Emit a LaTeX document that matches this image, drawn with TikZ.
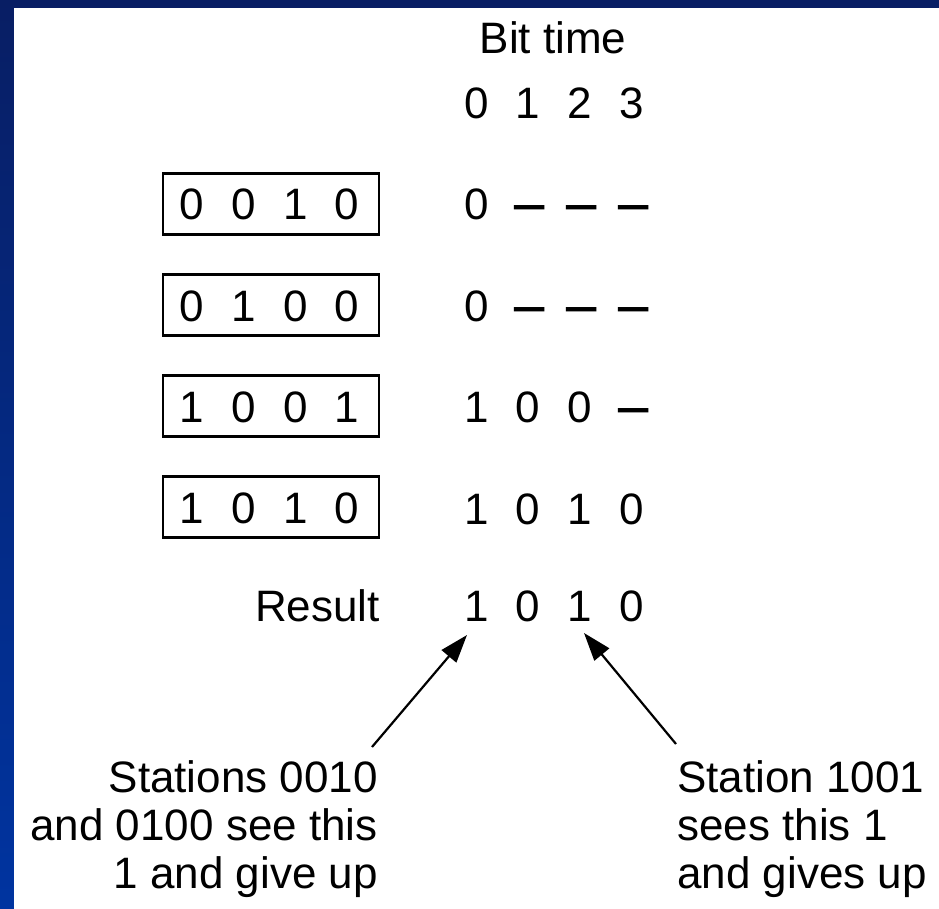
\documentclass[tikz,border=0pt]{standalone}
\usepackage{fontspec}
\usepackage{graphicx}
\setmainfont{Liberation Sans}
\usetikzlibrary{arrows.meta}
\definecolor{navytop}{RGB}{8,30,100}
\definecolor{navybot}{RGB}{0,52,160}
\newcommand{\nobitdash}{\scalebox{1.4}[1]{\textbf{\textendash}}}
\begin{document}
\begin{tikzpicture}[x=1pt,y=-1pt,
  every node/.style={inner sep=0pt, font=\fontsize{44}{48}\selectfont},
  digit/.style={anchor=base},
  nobit/.style={anchor=base},
  bitbox/.style={draw, line width=2.5pt, minimum width=216pt, minimum height=61pt},
  pointer/.style={line width=2.2pt, -{Triangle[length=28pt,width=19pt]}},
  note/.style={align=#1}
]
\useasboundingbox (0,0) rectangle (939,909);
\shade[top color=navytop, bottom color=navybot] (0,0) rectangle (939,909);
\fill[white] (14,8) rectangle (939,909);

% header
\node[digit] (bittime) at (553,54) {Bit time};
\node[digit] (h0) at (477,119) {0};
\node[digit] (h1) at (528,119) {1};
\node[digit] (h2) at (580,119) {2};
\node[digit] (h3) at (632,119) {3};

% boxes
\node[bitbox] (box1) at (271,204) {};
\node[bitbox] (box2) at (271,305) {};
\node[bitbox] (box3) at (271,406) {};
\node[bitbox] (box4) at (271,507) {};

% box digits
\node[digit] (b1a) at (192,220) {0};
\node[digit] (b1b) at (244,220) {0};
\node[digit] (b1c) at (296,220) {1};
\node[digit] (b1d) at (347,220) {0};

\node[digit] (b2a) at (192,321) {0};
\node[digit] (b2b) at (244,321) {1};
\node[digit] (b2c) at (296,321) {0};
\node[digit] (b2d) at (347,321) {0};

\node[digit] (b3a) at (192,422) {1};
\node[digit] (b3b) at (244,422) {0};
\node[digit] (b3c) at (296,422) {0};
\node[digit] (b3d) at (347,422) {1};

\node[digit] (b4a) at (192,523) {1};
\node[digit] (b4b) at (244,523) {0};
\node[digit] (b4c) at (296,523) {1};
\node[digit] (b4d) at (347,523) {0};

% bit-time rows
\node[digit] (r1a) at (477,220) {0};
\node[nobit] (r1b) at (530,220) {\nobitdash};
\node[nobit] (r1c) at (582,220) {\nobitdash};
\node[nobit] (r1d) at (634,220) {\nobitdash};

\node[digit] (r2a) at (477,321) {0};
\node[nobit] (r2b) at (530,321) {\nobitdash};
\node[nobit] (r2c) at (582,321) {\nobitdash};
\node[nobit] (r2d) at (634,321) {\nobitdash};

\node[digit] (r3a) at (477,422) {1};
\node[digit] (r3b) at (528,422) {0};
\node[digit] (r3c) at (580,422) {0};
\node[nobit] (r3d) at (634,422) {\nobitdash};

\node[digit] (r4a) at (477,524) {1};
\node[digit] (r4b) at (528,524) {0};
\node[digit] (r4c) at (580,524) {1};
\node[digit] (r4d) at (632,524) {0};

% result
\node[anchor=base east] (result) at (380,621) {Result};
\node[digit] (ra) at (477,621) {1};
\node[digit] (rb) at (528,621) {0};
\node[digit] (rc) at (580,621) {1};
\node[digit] (rd) at (632,621) {0};

% notes
\node[note=right, anchor=north east] (leftnote) at (378,760)
  {Stations 0010\\and 0100 see this\\1 and give up};
\node[note=left, anchor=north west] (rightnote) at (677,760)
  {Station 1001\\sees this 1\\and gives up};

% arrows
\coordinate (ltail) at (372,747);
\coordinate (ltip) at (467,635);
\coordinate (rtail) at (676,744);
\coordinate (rtip) at (584,633);
\draw[pointer] (ltail) -- (ltip);
\draw[pointer] (rtail) -- (rtip);
\end{tikzpicture}
\end{document}
